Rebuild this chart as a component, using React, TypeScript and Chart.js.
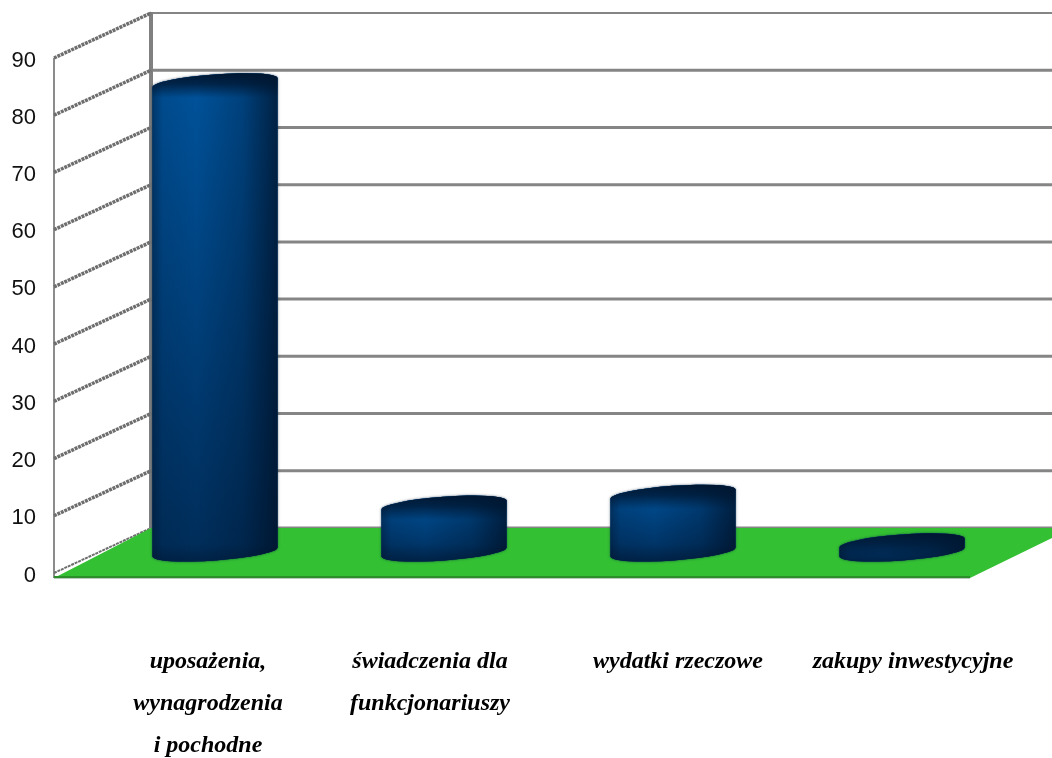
import React, { useEffect, useRef } from "react";
import { Chart, registerables } from "chart.js";

Chart.register(...registerables);

const categories = [
  ["uposażenia,", "wynagrodzenia", "i pochodne"],
  ["świadczenia dla", "funkcjonariuszy"],
  "wydatki rzeczowe",
  "zakupy inwestycyjne",
];
const values = [82, 8.2, 10.1, 1.6];
const labelShift = [39.5, 32.5, 51.5, 57.5];

const DEPTH_X = 97;
const DEPTH_Y = 45;
const BAR_DX = 46.5;
const BAR_DY = 21;
const ROT = (-4.2 * Math.PI) / 180;
const MINOR = 8.4;

const plugin3d = {
  id: "plugin3d",
  beforeDraw(chart: any) {
    const { x: xs, y: ys } = chart.scales;
    xs.getLabelItems().forEach((it: any, i: number) => {
      if (!it.__moved) {
        it.options.translation[0] += labelShift[i] ?? 0;
        it.__moved = true;
      }
    });
    ys.getLabelItems().forEach((it: any) => {
      if (!it.__moved) {
        it.options.translation[1] += 2.5;
        it.__moved = true;
      }
    });
    const ctx = chart.ctx as CanvasRenderingContext2D;
    const a = chart.chartArea;
    const w = chart.width;
    const y0 = ys.getPixelForValue(0);
    ctx.save();

    // back wall lines
    ys.ticks.forEach((t: any) => {
      const y = ys.getPixelForValue(t.value) - DEPTH_Y;
      ctx.strokeStyle = "#858585";
      ctx.lineWidth = t.value === 90 ? 2 : 3;
      ctx.beginPath();
      ctx.moveTo(a.left + DEPTH_X, y);
      ctx.lineTo(w, y);
      ctx.stroke();
    });
    // back wall vertical
    ctx.strokeStyle = "#808080";
    ctx.lineWidth = 4;
    ctx.beginPath();
    ctx.moveTo(a.left + DEPTH_X, ys.getPixelForValue(90) - DEPTH_Y - 1);
    ctx.lineTo(a.left + DEPTH_X, y0 - DEPTH_Y);
    ctx.stroke();
    // front vertical
    ctx.strokeStyle = "#8c8c8c";
    ctx.lineWidth = 2;
    ctx.beginPath();
    ctx.moveTo(a.left, ys.getPixelForValue(90));
    ctx.lineTo(a.left, y0 + 5);
    ctx.stroke();
    // side wall oblique lines
    ys.ticks.forEach((t: any) => {
      const y = ys.getPixelForValue(t.value);
      ctx.strokeStyle = "#6e6e6e";
      ctx.lineWidth = t.value === 0 ? 2 : 3.5;
      ctx.setLineDash([3, 0.8]);
      ctx.beginPath();
      ctx.moveTo(a.left, y);
      ctx.lineTo(a.left + DEPTH_X, y - DEPTH_Y);
      ctx.stroke();
      ctx.setLineDash([]);
    });
    // floor
    ctx.fillStyle = "#33c033";
    ctx.beginPath();
    ctx.moveTo(a.left, y0 + 5);
    ctx.lineTo(a.left + DEPTH_X, y0 - DEPTH_Y);
    ctx.lineTo(w, y0 - DEPTH_Y);
    ctx.lineTo(w, y0 - 35);
    ctx.lineTo(a.right, y0 + 5);
    ctx.closePath();
    ctx.fill();
    ctx.fillStyle = "#2c8f2c";
    ctx.fillRect(a.left, y0 + 3, a.right - a.left, 2);
    ctx.fillStyle = "#b9c9b9";
    ctx.fillRect(a.left, y0 + 5, a.right - a.left, 1);
    ctx.restore();
  },
  afterDatasetsDraw(chart: any) {
    const ctx = chart.ctx as CanvasRenderingContext2D;
    const meta = chart.getDatasetMeta(0);
    meta.data.forEach((bar: any) => {
      const cx = bar.x + BAR_DX;
      const r = bar.width / 2 / Math.cos(ROT);
      const top = bar.y - BAR_DY;
      const base = bar.base - BAR_DY;
      const left = cx - bar.width / 2;
      const right = cx + bar.width / 2;
      const path = () => {
        ctx.beginPath();
        ctx.ellipse(cx, base, r, MINOR, ROT, 0, Math.PI);
        ctx.ellipse(cx, top, r, MINOR, ROT, Math.PI, 2 * Math.PI);
        ctx.closePath();
      };
      ctx.save();
      // soft outline
      ctx.shadowColor = "rgba(0,30,60,0.8)";
      ctx.shadowBlur = 2.5;
      ctx.fillStyle = "#00244a";
      path();
      ctx.fill();
      ctx.restore();

      ctx.save();
      path();
      ctx.clip();

      const v = ctx.createLinearGradient(0, top - 10, 0, base + 10);
      v.addColorStop(0, "#00539c");
      v.addColorStop(1, "#002c58");
      ctx.fillStyle = v;
      ctx.fillRect(left - 2, top - 20, bar.width + 4, base - top + 40);

      const h = ctx.createLinearGradient(left, 0, right, 0);
      h.addColorStop(0, "rgba(0,15,35,0.4)");
      h.addColorStop(0.08, "rgba(0,15,35,0.1)");
      h.addColorStop(0.35, "rgba(0,15,35,0)");
      h.addColorStop(0.72, "rgba(0,15,35,0.25)");
      h.addColorStop(1, "rgba(0,15,35,0.72)");
      ctx.fillStyle = h;
      ctx.fillRect(left - 2, top - 20, bar.width + 4, base - top + 40);

      const s = ctx.createLinearGradient(0, top - 10, 0, top + 15);
      s.addColorStop(0, "rgba(0,22,48,1)");
      s.addColorStop(0.45, "rgba(0,22,48,0.75)");
      s.addColorStop(1, "rgba(0,22,48,0)");
      ctx.fillStyle = s;
      ctx.fillRect(left - 2, top - 20, bar.width + 4, 40);

      const b = ctx.createLinearGradient(0, base - 8, 0, base + 10);
      b.addColorStop(0, "rgba(0,15,35,0)");
      b.addColorStop(1, "rgba(0,15,35,0.35)");
      ctx.fillStyle = b;
      ctx.fillRect(left - 2, base - 8, bar.width + 4, 30);
      ctx.restore();
    });
  },
};

export default function App() {
  const ref = useRef<HTMLCanvasElement>(null);
  useEffect(() => {
    const chart = new Chart(ref.current as HTMLCanvasElement, {
      type: "bar",
      data: {
        labels: categories as any,
        datasets: [
          {
            data: values,
            backgroundColor: "rgba(0,0,0,0)",
            borderWidth: 0,
            barPercentage: 0.546,
            categoryPercentage: 1,
          },
        ],
      },
      plugins: [plugin3d as any],
      options: {
        responsive: false,
        animation: false,
        devicePixelRatio: 1,
        layout: { padding: { top: 58, right: 82, left: 0, bottom: 0 } },
        plugins: { legend: { display: false }, tooltip: { enabled: false }, title: { display: false } },
        scales: {
          x: {
            grid: { display: false },
            border: { display: false },
            afterFit: (s: any) => {
              s.height = 185;
            },
            ticks: {
              maxRotation: 0,
              autoSkip: false,
              padding: 60,
              color: "#000000",
              font: { family: "'Liberation Serif'", size: 24, style: "italic", weight: "bold", lineHeight: 42 / 24 },
            },
          },
          y: {
            min: 0,
            max: 90,
            grid: { display: false },
            border: { display: false },
            afterFit: (s: any) => {
              s.width = 54;
            },
            ticks: {
              stepSize: 10,
              padding: 10,
              color: "#111111",
              font: { family: "'Liberation Sans'", size: 22 },
            },
          },
        },
      },
    });
    return () => chart.destroy();
  }, []);
  return (
    <div style={{ position: "absolute", left: 0, top: 0, width: 1052, height: 758, background: "#fff" }}>
      <canvas ref={ref} width={1052} height={758} style={{ display: "block" }} />
    </div>
  );
}
